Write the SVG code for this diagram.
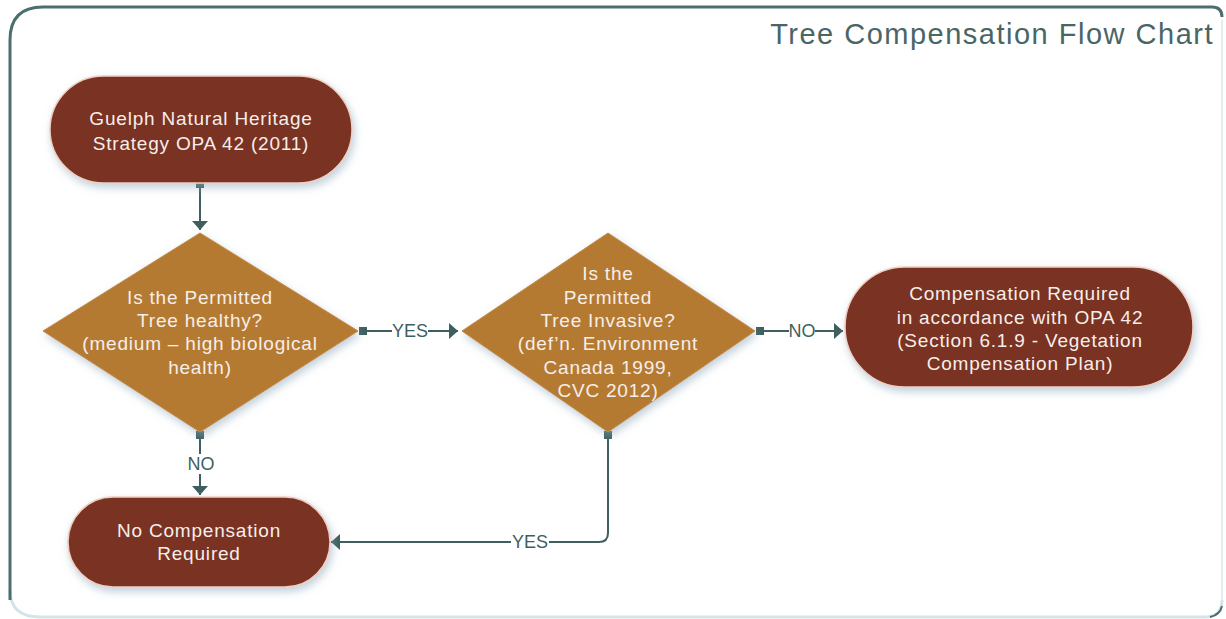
<svg xmlns="http://www.w3.org/2000/svg" width="1226" height="619" viewBox="0 0 1226 619">
  <defs>
    <filter id="shadow" x="-20%" y="-20%" width="140%" height="150%">
      <feDropShadow dx="2" dy="4" stdDeviation="4" flood-color="#8fa8bc" flood-opacity="0.55"/>
    </filter>
    <marker id="arrow" viewBox="0 0 10 10" refX="10" refY="5" markerWidth="9" markerHeight="16" markerUnits="userSpaceOnUse" orient="auto" preserveAspectRatio="none">
      <path d="M0,0 L10,5 L0,10 z" fill="#3f5f5f"/>
    </marker>
    <marker id="sq" viewBox="0 0 8 8" refX="4" refY="4" markerWidth="8" markerHeight="8" markerUnits="userSpaceOnUse" orient="auto">
      <rect x="0" y="0" width="8" height="8" fill="#3f5f5f"/>
    </marker>
  </defs>
  <style>
    .term { fill: #7a3322; stroke: #efcfc4; stroke-width: 1.5; filter: url(#shadow); }
    .dec { fill: #b57a30; stroke: #c58a40; stroke-width: 1; stroke-linejoin: round; filter: url(#shadow); }
    .ntext { font-family: "Liberation Sans", Arial, sans-serif; font-size: 19px; letter-spacing: 0.8px; fill: #f6eeea; text-anchor: middle; }
    .conn { fill: none; stroke: #3f5f5f; stroke-width: 2; }
    .lbl { font-family: "Liberation Sans", Arial, sans-serif; font-size: 18px; fill: #3f5f5f; text-anchor: middle; }
    .title { font-family: "Liberation Sans", Arial, sans-serif; font-size: 29px; letter-spacing: 1.5px; fill: #4a6565; text-anchor: end; }
  </style>
  <rect width="1226" height="619" fill="#ffffff"/>
  <g id="frame">
    <path d="M1222,600 Q1222,617 1205,617 L40,617 Q10,617 10,590" fill="none" stroke="#d4e4e8" stroke-width="3"/>
    <path d="M1222,20 L1222,600" fill="none" stroke="#e4eef0" stroke-width="2"/>
    <path d="M10,600 L10,40 Q10,7 43,7 L1212,7 Q1222,7 1222,17" fill="none" stroke="#4d6e6e" stroke-width="3"/>
    <path d="M1222,606 Q1220,615 1210,617" fill="none" stroke="#4d6e6e" stroke-width="2"/>
  </g>
  <text class="title" x="1214" y="44">Tree Compensation Flow Chart</text>

  <g id="connectors">
    <path class="conn" d="M363,331 H458" marker-start="url(#sq)" marker-end="url(#arrow)"/>
    <path class="conn" d="M200,184 V230" marker-start="url(#sq)" marker-end="url(#arrow)"/>
    <path class="conn" d="M760,331 H843" marker-start="url(#sq)" marker-end="url(#arrow)"/>
    <path class="conn" d="M200,435 V495" marker-start="url(#sq)" marker-end="url(#arrow)"/>
    <path class="conn" d="M608,435 V533 Q608,542 599,542 H331" marker-start="url(#sq)" marker-end="url(#arrow)"/>
    <rect x="392" y="320" width="36" height="22" fill="#ffffff"/>
    <text class="lbl" x="410" y="337">YES</text>
    <rect x="789" y="320" width="26" height="22" fill="#ffffff"/>
    <text class="lbl" x="802" y="337">NO</text>
    <rect x="187" y="454" width="27" height="20" fill="#ffffff"/>
    <text class="lbl" x="201" y="470">NO</text>
    <rect x="511" y="532" width="38" height="20" fill="#ffffff"/>
    <text class="lbl" x="530" y="548">YES</text>
  </g>

  <g id="start">
    <rect class="term" x="50" y="76" width="302" height="107" rx="53.5"/>
    <text class="ntext" x="201" y="125">Guelph Natural Heritage</text>
    <text class="ntext" x="201" y="150">Strategy OPA 42 (2011)</text>
  </g>

  <g id="healthy">
    <polygon class="dec" points="200,233 358,331 200,432 43,331"/>
    <text class="ntext" x="200" y="304">Is the Permitted</text>
    <text class="ntext" x="200" y="327">Tree healthy?</text>
    <text class="ntext" x="200" y="350">(medium – high biological</text>
    <text class="ntext" x="200" y="374">health)</text>
  </g>

  <g id="invasive">
    <polygon class="dec" points="608,233 755,331 608,432 462,331"/>
    <text class="ntext" x="608" y="280">Is the</text>
    <text class="ntext" x="608" y="304">Permitted</text>
    <text class="ntext" x="608" y="327">Tree Invasive?</text>
    <text class="ntext" x="608" y="350">(def’n. Environment</text>
    <text class="ntext" x="608" y="374">Canada 1999,</text>
    <text class="ntext" x="608" y="397">CVC 2012)</text>
  </g>

  <g id="comp-required">
    <rect class="term" x="845" y="267" width="348" height="120" rx="60"/>
    <text class="ntext" x="1020" y="300">Compensation Required</text>
    <text class="ntext" x="1020" y="324">in accordance with OPA 42</text>
    <text class="ntext" x="1020" y="347">(Section 6.1.9 - Vegetation</text>
    <text class="ntext" x="1020" y="370">Compensation Plan)</text>
  </g>

  <g id="no-comp">
    <rect class="term" x="68" y="497" width="262" height="90" rx="45"/>
    <text class="ntext" x="199" y="537">No Compensation</text>
    <text class="ntext" x="199" y="560">Required</text>
  </g>
</svg>
